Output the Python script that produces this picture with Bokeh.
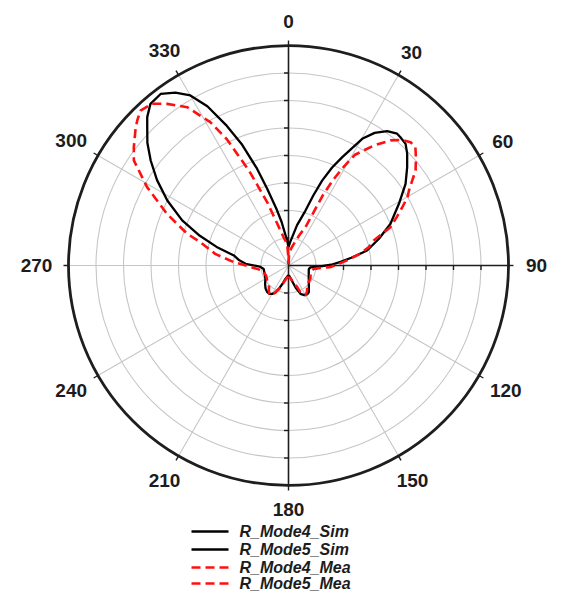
import numpy as np
from bokeh.plotting import figure
from bokeh.models import Range1d
from bokeh.core.properties import value
from bokeh.embed import file_html
from bokeh.resources import INLINE

# ---------------- data (angle in degrees clockwise from top, radius in grid rings 0..8) ----------------
sim_mode5_theta = [0, 4, 7.4, 12, 17.2, 19.5, 21.6, 24, 26.4, 30.2, 33, 36.3, 39.5, 41.1, 43.9, 46.7,
                   50.4, 55.1, 60.8, 67.8, 73.5, 79.2, 83, 86, 89, 92, 95, 100, 107, 116, 125, 134.6,
                   142.7, 146.5, 152, 157, 162, 168, 174, 180]
sim_mode5_r = [0.67, 0.85, 1.04, 1.5, 2.09, 2.7, 3.32, 3.9, 4.4, 5.33, 5.75, 6.06, 6.21, 6.19, 6.14, 5.93,
               5.6, 5.19, 4.6, 4.0, 3.43, 2.91, 2.3, 1.9, 1.55, 1.1, 0.8, 0.75, 0.77, 0.82, 0.9, 1.04,
               1.22, 1.25, 1.22, 1.12, 0.85, 0.55, 0.4, 0.36]

sim_mode4_theta = [180, 186, 193, 198, 202.6, 206, 210, 214, 218.6, 225, 232, 240, 250, 262, 268, 272.3,
                   276, 280.4, 284.5, 288.5, 293, 298.2, 303, 307.3, 311, 314.4, 316.4, 319.5, 323.3,
                   326.8, 330, 333, 336, 339, 342, 344.5, 348, 351, 354, 357, 360]
sim_mode4_r = [0.36, 0.4, 0.5, 0.7, 0.92, 1.1, 1.19, 1.24, 1.24, 1.18, 1.08, 0.97, 0.92, 0.91, 1.05, 1.56,
               1.8, 2.02, 2.7, 3.4, 4.2, 5.0, 5.7, 6.3, 6.8, 7.19, 7.45, 7.73, 7.78,
               7.51, 7.14, 6.5, 5.6, 4.7, 3.7, 2.9, 2.1, 1.6, 1.15, 0.9, 0.67]

mea_mode5_theta = [0, 3, 8, 13.8, 20, 23.9, 25, 26, 27.5, 29, 31, 35.4, 39.2, 42, 44.7, 47, 50, 53.2, 56,
                   58.1, 60, 62.9, 66, 69.4, 73.7, 77, 81, 85, 88.5, 92.3, 95, 98, 107, 120, 137, 144,
                   150, 156, 158, 165, 172, 180]
mea_mode5_r = [0.05, 0.35, 0.6, 0.81, 1.2, 1.52, 2.0, 2.8, 3.5, 4.05, 4.7, 5.35, 5.87, 6.15, 6.31, 6.31,
               6.05, 5.77, 5.4, 5.16, 5.0, 4.65, 4.3, 3.96, 3.23, 3.0, 2.6, 2.14, 1.8, 1.5, 1.1, 0.92,
               0.84, 0.92, 1.0, 1.15, 1.26, 1.06, 0.85, 0.6, 0.45, 0.45]

mea_mode4_theta = [180, 186, 195.7, 200, 206, 211, 214, 218, 225, 234.8, 246, 259, 267, 273.5, 279, 284.8,
                   287.4, 293, 299, 304.2, 307.4, 311.8, 313.8, 316.3, 319.9, 323.1, 327.4, 331.4, 334,
                   337.5, 341.5, 344.5, 347, 350, 353, 356.6, 358.5, 360]
mea_mode4_r = [0.45, 0.43, 0.63, 0.85, 1.08, 1.27, 1.25, 1.16, 1.0, 0.95, 0.89, 0.97, 1.32, 1.99, 2.7, 3.31,
               3.86, 4.8, 5.88, 6.8, 7.08, 7.46, 7.62, 7.79, 7.69, 7.35, 6.83, 5.94, 5.1,
               3.7, 2.4, 1.65, 1.31, 1.05, 0.9, 0.7, 0.35, 0.05]

ring_values = [1, 2, 3, 4, 5, 6, 7, 8]
angle_ticks = [0, 30, 60, 90, 120, 150, 180, 210, 240, 270, 300, 330]
angle_labels = ["0", "30", "60", "90", "120", "150", "180", "210", "240", "270", "300", "330"]
legend_labels = ["R_Mode4_Sim", "R_Mode5_Sim", "R_Mode4_Mea", "R_Mode5_Mea"]

# ---------------- layout ----------------
U = 27.5               # pixels per ring
W, H = 547, 591
CX, CY = 288, 265      # pole position in canvas pixels
R_MAX = ring_values[-1]


def to_xy(theta, r):
    t = np.radians(np.asarray(theta, dtype=float))
    r = np.asarray(r, dtype=float)
    return r * np.sin(t), r * np.cos(t)


p = figure(width=W, height=H, x_range=Range1d(-CX / U, (W - CX) / U),
           y_range=Range1d(-(H - CY) / U, CY / U), x_axis_type=None, y_axis_type=None,
           output_backend="svg", toolbar_location=None, min_border=0)
p.outline_line_color = None
p.grid.visible = False
p.background_fill_color = "white"

GRID = "#c6c6c6"
AX = "#1e1e1e"

# inner gray rings
p.circle(x=[0] * (len(ring_values) - 1), y=[0] * (len(ring_values) - 1), radius=ring_values[:-1],
         fill_color=None, line_color=GRID, line_width=1.1)

# gray spokes
spokes = [a for a in angle_ticks if a not in (0, 90, 180)]
sx, sy = to_xy(spokes, [R_MAX] * len(spokes))
p.segment(x0=[0] * len(spokes), y0=[0] * len(spokes), x1=sx, y1=sy, line_color=GRID, line_width=1.1)

# radial axes (vertical full diameter, horizontal right half)
p.segment(x0=[0, 0], y0=[R_MAX, 0], x1=[0, R_MAX], y1=[-R_MAX, 0], line_color=AX, line_width=1.6)
tk = 4.5 / U
vt = [v for v in ring_values[:-1]] + [-v for v in ring_values[:-1]]
p.segment(x0=[-tk] * len(vt), y0=vt, x1=[0] * len(vt), y1=vt, line_color=AX, line_width=1.4)
ht = ring_values
p.segment(x0=ht, y0=[0] * len(ht), x1=ht, y1=[-tk] * len(ht), line_color=AX, line_width=1.4)

# outer circle and outer ticks
p.circle(x=[0], y=[0], radius=[R_MAX], fill_color=None, line_color=AX, line_width=2.8)
ox0, oy0 = to_xy(angle_ticks, [R_MAX] * len(angle_ticks))
ox1, oy1 = to_xy(angle_ticks, [R_MAX + 5.0 / U] * len(angle_ticks))
p.segment(x0=ox0, y0=oy0, x1=ox1, y1=oy1, line_color=AX, line_width=1.4)

# angular labels
lr = [(244 + 4 * abs(np.sin(np.radians(a))) * (len(s) - 1)) / U for a, s in zip(angle_ticks, angle_labels)]
lx, ly = to_xy(angle_ticks, lr)
p.text(x=lx, y=ly, text=angle_labels, text_align="center", text_baseline="middle",
       text_font=value("Liberation Sans"), text_font_style="bold", text_font_size="19px",
       text_color="#1c1c1c")

# curves
for th, rr in ((sim_mode4_theta, sim_mode4_r), (sim_mode5_theta, sim_mode5_r)):
    x, y = to_xy(th, rr)
    p.line(x, y, line_color="black", line_width=2.3)
for th, rr in ((mea_mode4_theta, mea_mode4_r), (mea_mode5_theta, mea_mode5_r)):
    x, y = to_xy(th, rr)
    p.line(x, y, line_color="#ff1010", line_width=2.6, line_dash="9 5")

# legend (manual, below the polar area)
row_px = [531, 549, 567, 583]
rows = [(CY - yy) / U for yy in row_px]
lx0, lx1, tx = (191 - CX) / U, (228 - CX) / U, (239 - CX) / U
styles = [("black", None), ("black", None), ("#ff1010", "9 5"), ("#ff1010", "9 5")]
for yy, (col, dash) in zip(rows, styles):
    if dash:
        p.line([lx0, lx1], [yy, yy], line_color=col, line_width=2.6, line_dash=dash)
    else:
        p.line([lx0, lx1], [yy, yy], line_color=col, line_width=2.6)
p.text(x=[tx] * 4, y=rows, text=legend_labels, text_align="left", text_baseline="middle",
       text_font=value("Liberation Sans"), text_font_style="bold italic", text_font_size="16px",
       text_color="#1c1c1c")

open("out.html", "w").write(file_html(p, INLINE))
